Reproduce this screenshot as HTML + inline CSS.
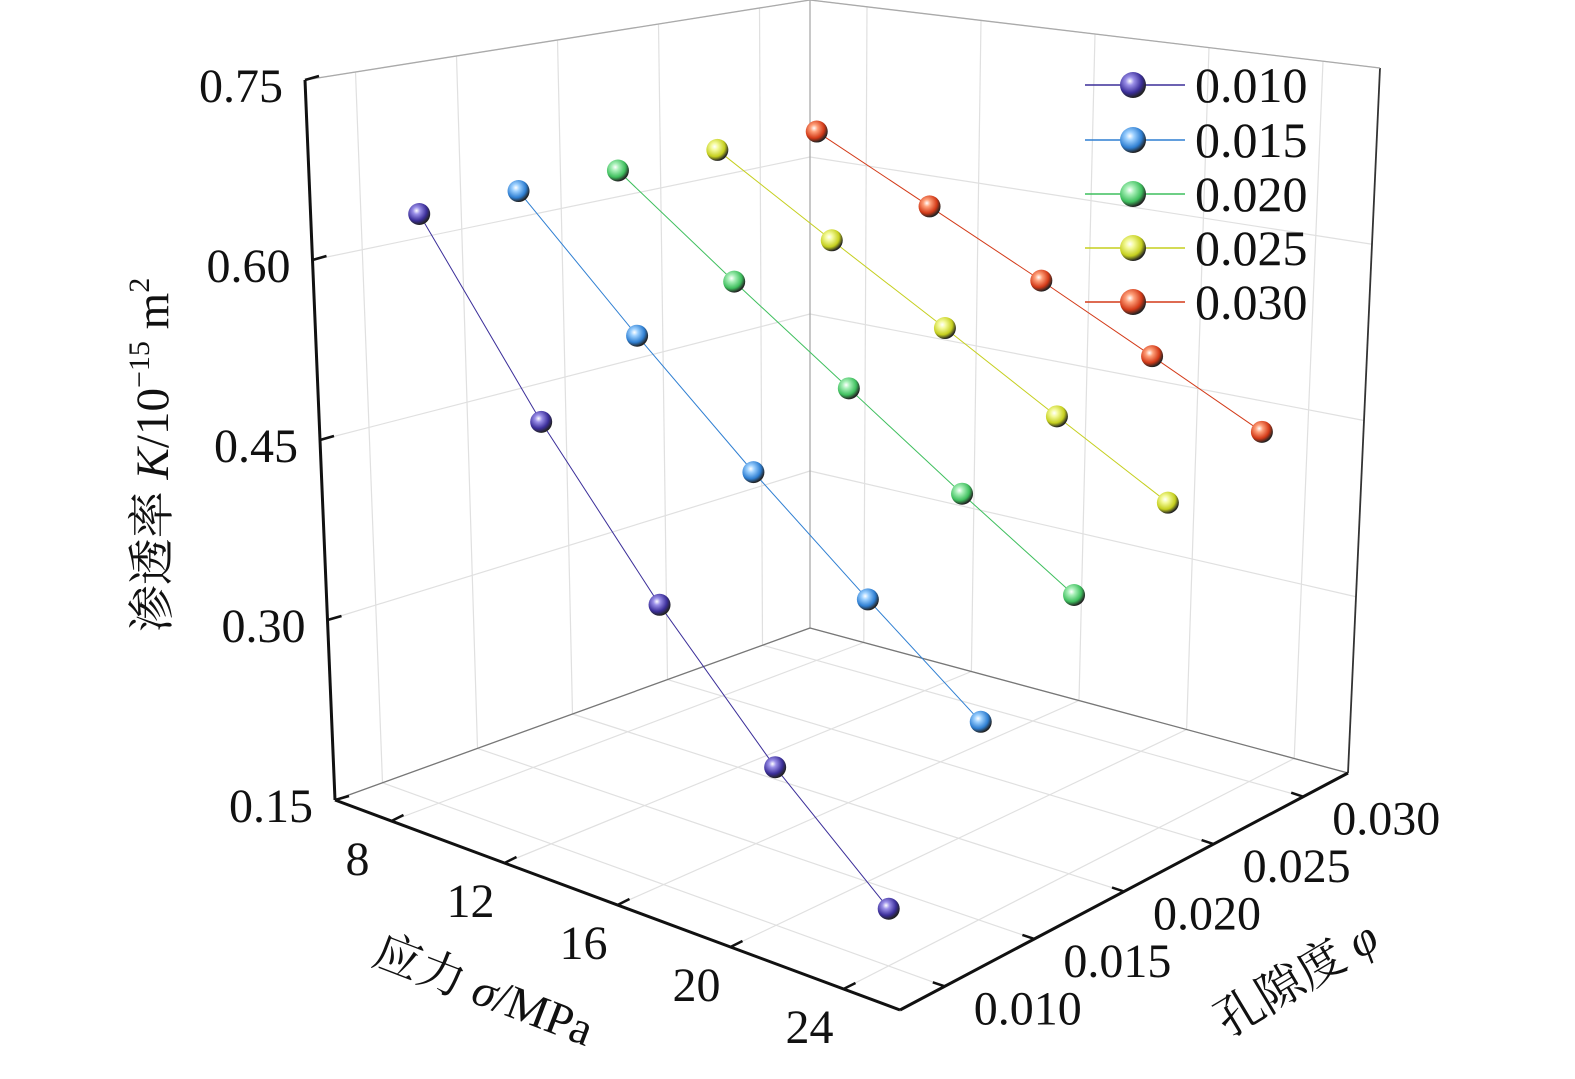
<!DOCTYPE html>
<html><head><meta charset="utf-8"><style>
html,body{margin:0;padding:0;background:#fff;}
svg{display:block;font-family:"Liberation Serif","Noto Serif CJK SC",serif;}
</style></head><body>
<svg id="chart" width="1575" height="1079" viewBox="0 0 1575 1079" xmlns="http://www.w3.org/2000/svg">
<defs></defs>
<g id="grid"></g>
<g id="axes"></g>
<g id="series"></g>
<g id="legend"></g>
<text transform="translate(168,455) rotate(-90)" text-anchor="middle" font-size="47" fill="#111">渗透率 <tspan font-style="italic">K</tspan>/10<tspan font-size="30" dy="-19">−15</tspan><tspan dy="19"> m</tspan><tspan font-size="30" dy="-19">2</tspan></text>
<text transform="translate(478,1005) rotate(21)" text-anchor="middle" font-size="47" fill="#111">应力 <tspan font-style="italic">σ</tspan>/MPa</text>
<text transform="translate(1305,992) rotate(-31)" text-anchor="middle" font-size="47" fill="#111">孔隙度 <tspan font-style="italic">φ</tspan></text>
</svg>
<script>
const stressValues = [8, 12, 16, 20, 24];
const porosityValues = [0.010, 0.015, 0.020, 0.025, 0.030];
const seriesLabels = ["0.010", "0.015", "0.020", "0.025", "0.030"];
const k010 = [0.642, 0.495, 0.374, 0.274, 0.194];
const k015 = [0.644, 0.544, 0.455, 0.377, 0.306];
const k020 = [0.644, 0.568, 0.499, 0.434, 0.375];
const k025 = [0.644, 0.582, 0.525, 0.470, 0.419];
const k030 = [0.642, 0.590, 0.541, 0.493, 0.447];
const kTicks = [0.15, 0.30, 0.45, 0.60, 0.75];
const kTickLabels = ["0.15", "0.30", "0.45", "0.60", "0.75"];
const sTicks = [8, 12, 16, 20, 24];
const pTicks = [0.010, 0.015, 0.020, 0.025, 0.030];
const pTickLabels = ["0.010", "0.015", "0.020", "0.025", "0.030"];

const allK = [k010, k015, k020, k025, k030];
const colors = ["#3b2e99", "#2f7fd2", "#3fbf5e", "#c5cf1e", "#d33a18"];
const light = ["#9a8fe8", "#9cd0ff", "#a8f0b8", "#f4fa9a", "#ffa07a"];
const S0 = 6, S1 = 26, P0 = 0.0075, P1 = 0.0325, K0 = 0.15, K1 = 0.75;
const L = [335, 800], F = [900, 1010], B = [810, 628], R = [1348, 773];
const VL = [-30, -720], VF = [2, -797], VB = [0, -628], VR = [32, -705];
function bil(a, b, c, d, u, v, i) {
  return a[i] * (1 - u) * (1 - v) + b[i] * u * (1 - v) + c[i] * (1 - u) * v + d[i] * u * v;
}
function proj(s, p, k) {
  const u = (s - S0) / (S1 - S0), v = (p - P0) / (P1 - P0), w = (k - K0) / (K1 - K0);
  return [bil(L, F, B, R, u, v, 0) + w * bil(VL, VF, VB, VR, u, v, 0),
          bil(L, F, B, R, u, v, 1) + w * bil(VL, VF, VB, VR, u, v, 1)];
}
const NS = "http://www.w3.org/2000/svg";
function mk(tag, attrs, parent) {
  const e = document.createElementNS(NS, tag);
  for (const k in attrs) e.setAttribute(k, attrs[k]);
  parent.appendChild(e);
  return e;
}
const grid = document.getElementById('grid'), axes = document.getElementById('axes');
const series = document.getElementById('series'), legend = document.getElementById('legend');
const defs = document.querySelector('defs');
function line(a, b, stroke, sw, parent, name) {
  const e = mk('line', {x1: a[0], y1: a[1], x2: b[0], y2: b[1], stroke: stroke, 'stroke-width': sw}, parent);
  
  
  return e;
}
const gc = "#e0e0e0";
sTicks.forEach(s => line(proj(s, P0, K0), proj(s, P1, K0), gc, 1.2, grid, 'floor-gridline-stress'));
pTicks.forEach(p => line(proj(S0, p, K0), proj(S1, p, K0), gc, 1.2, grid, 'floor-gridline-porosity'));
kTicks.forEach(k => line(proj(S0, P0, k), proj(S0, P1, k), gc, 1.2, grid, 'left-wall-gridline-k'));
pTicks.forEach(p => line(proj(S0, p, K0), proj(S0, p, K1), gc, 1.2, grid, 'left-wall-gridline-porosity'));
kTicks.forEach(k => line(proj(S0, P1, k), proj(S1, P1, k), gc, 1.2, grid, 'back-wall-gridline-k'));
sTicks.forEach(s => line(proj(s, P1, K0), proj(s, P1, K1), gc, 1.2, grid, 'back-wall-gridline-stress'));
const ec = "#aaaaaa";
line(proj(S0, P1, K0), proj(S0, P1, K1), ec, 1.3, grid, 'back-edge');
line(proj(S1, P1, K0), proj(S1, P1, K1), "#333", 1.8, grid, 'right-edge');
line(proj(S0, P0, K1), proj(S0, P1, K1), ec, 1.3, grid, 'top-left-edge');
line(proj(S0, P1, K1), proj(S1, P1, K1), ec, 1.3, grid, 'top-right-edge');
line(proj(S0, P0, K0), proj(S0, P1, K0), "#777", 1.3, grid, 'floor-left-edge');
line(proj(S0, P1, K0), proj(S1, P1, K0), "#777", 1.3, grid, 'floor-right-edge');
line(proj(S0, P0, K0), proj(S0, P0, K1), "#111", 3, axes, 'y-axis-line');
line(proj(S0, P0, K0), proj(S1, P0, K0), "#111", 3, axes, 'x-axis-line');
line(proj(S1, P0, K0), proj(S1, P1, K0), "#111", 3, axes, 'z-axis-line');
kTicks.forEach((k, i) => {
  const a = proj(S0, P0, k);
  line(a, [a[0] + 14, a[1] - 4], "#111", 2.5, axes, 'y-tick');
  const t = mk('text', {x: a[0] - 22, y: a[1] + 22, 'text-anchor': 'end', 'font-size': 48, fill: '#111'}, axes);
  
  
  t.textContent = kTickLabels[i];
});
sTicks.forEach(s => {
  const a = proj(s, P0, K0);
  line(a, [a[0] + 12, a[1] - 6], "#111", 2.5, axes, 'x-tick');
  const t = mk('text', {x: a[0] - 34, y: a[1] + 54, 'text-anchor': 'middle', 'font-size': 48, fill: '#111'}, axes);
  
  
  t.textContent = String(s);
});
pTicks.forEach((p, i) => {
  const a = proj(S1, p, K0);
  line(a, [a[0] - 12, a[1] - 4], "#111", 2.5, axes, 'z-tick');
  const t = mk('text', {x: a[0] + 83, y: a[1] + 38, 'text-anchor': 'middle', 'font-size': 48, fill: '#111'}, axes);
  
  
  t.textContent = pTickLabels[i];
});
colors.forEach((c, i) => {
  const g = mk('radialGradient', {id: 'sph' + i, cx: '0.38', cy: '0.35', r: '0.65'}, defs);
  mk('stop', {offset: '0', 'stop-color': '#ffffff'}, g);
  mk('stop', {offset: '0.25', 'stop-color': light[i]}, g);
  mk('stop', {offset: '0.7', 'stop-color': c}, g);
  mk('stop', {offset: '1', 'stop-color': '#222'}, g);
});
allK.forEach((ks, si) => {
  const grp = mk('g', {}, series);
  
  
  const pts = ks.map((k, j) => proj(stressValues[j], porosityValues[si], k));
  const pl = mk('polyline', {points: pts.map(p => p.join(',')).join(' '), fill: 'none', stroke: colors[si], 'stroke-width': 1}, grp);
  
  
  pts.forEach(p => {
    const c = mk('circle', {cx: p[0], cy: p[1], r: 11, fill: 'url(#sph' + si + ')'}, grp);
    
    
  });
});
const ly = [85, 140, 194, 248, 302];
seriesLabels.forEach((lab, i) => {
  const g = mk('g', {}, legend);
  
  
  mk('line', {x1: 1085, y1: ly[i], x2: 1185, y2: ly[i], stroke: colors[i], 'stroke-width': 1.5}, g);
  mk('circle', {cx: 1133, cy: ly[i], r: 13, fill: 'url(#sph' + i + ')'}, g);
  const t = mk('text', {x: 1195, y: ly[i] + 17, 'font-size': 50, fill: '#111'}, g);
  t.textContent = lab;
});
</script>
</body></html>
